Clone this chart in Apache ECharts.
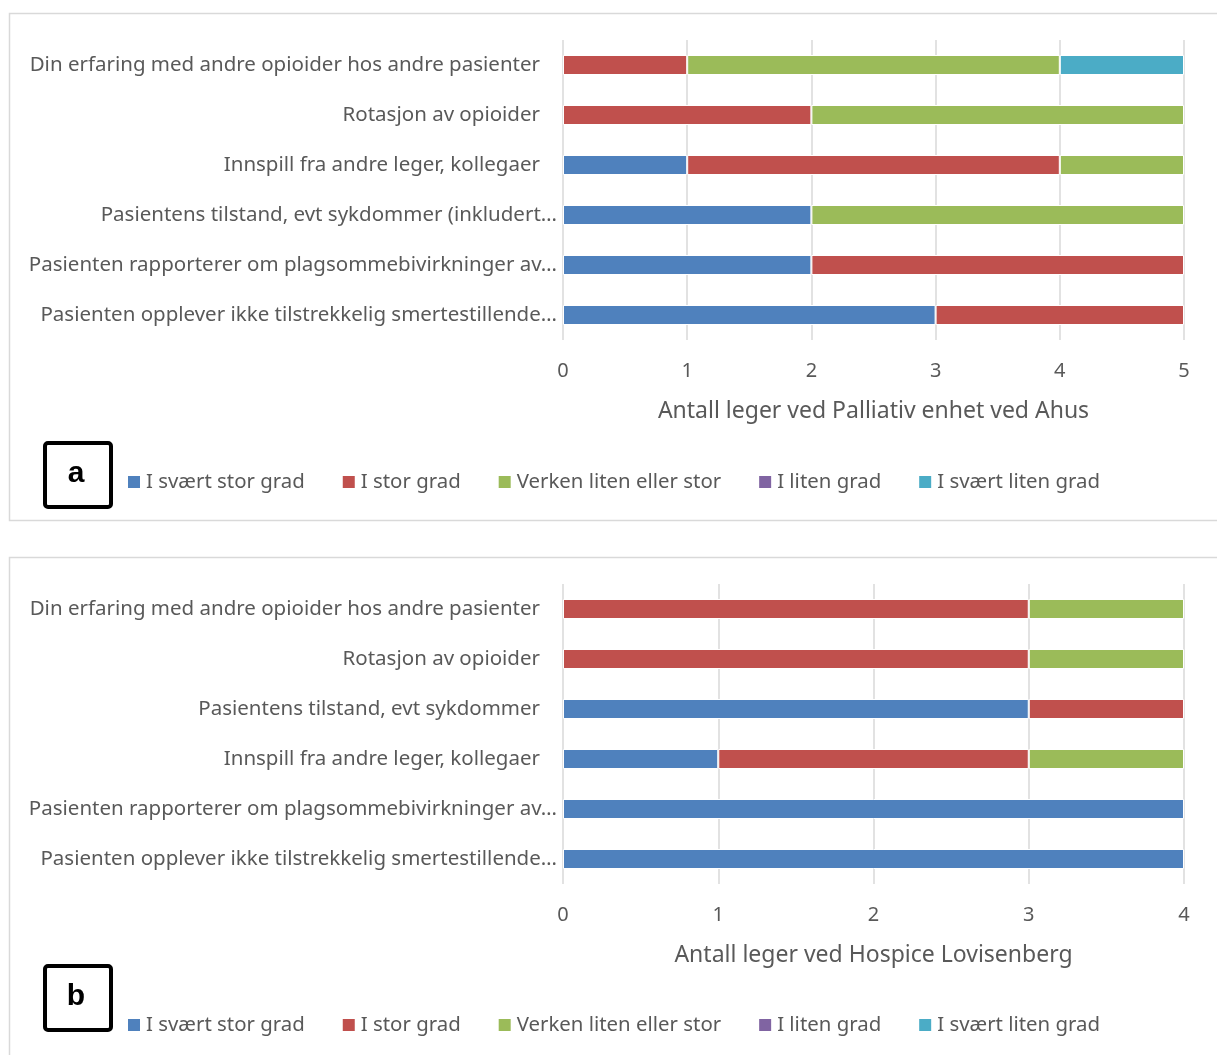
<!DOCTYPE html>
<html>
<head>
    <meta charset="UTF-8">
    <title>Antall leger</title>
    <script src="https://cdn.jsdelivr.net/npm/echarts@6/dist/echarts.min.js"></script>
    <style>
        html, body { margin: 0; padding: 0; background: #fff; }
        #chart { width: 1217px; height: 1055px; }
    </style>
</head>
<body>
<div id="chart"></div>
<script>
    // kategorier, fra topp til bunn
    var catsA = [
        'Din erfaring med andre opioider hos andre pasienter',
        'Rotasjon av opioider',
        'Innspill fra andre leger, kollegaer',
        'Pasientens tilstand, evt sykdommer (inkludert\u2026',
        'Pasienten rapporterer om plagsommebivirkninger av\u2026',
        'Pasienten opplever ikke tilstrekkelig smertestillende\u2026'
    ];
    var catsB = [
        'Din erfaring med andre opioider hos andre pasienter',
        'Rotasjon av opioider',
        'Pasientens tilstand, evt sykdommer',
        'Innspill fra andre leger, kollegaer',
        'Pasienten rapporterer om plagsommebivirkninger av\u2026',
        'Pasienten opplever ikke tilstrekkelig smertestillende\u2026'
    ];
    var seriesNames = ['I svært stor grad', 'I stor grad', 'Verken liten eller stor', 'I liten grad', 'I svært liten grad'];
    var colors = ['#4F81BD', '#C0504D', '#9BBB59', '#8064A2', '#4BACC6'];

    // a: Palliativ enhet ved Ahus
    var a_sværtStor = [0, 0, 1, 2, 2, 3];
    var a_stor      = [1, 2, 3, 0, 3, 2];
    var a_verken    = [3, 3, 1, 3, 0, 0];
    var a_liten     = [0, 0, 0, 0, 0, 0];
    var a_sværtLiten = [1, 0, 0, 0, 0, 0];

    // b: Hospice Lovisenberg
    var b_sværtStor = [0, 0, 3, 1, 4, 4];
    var b_stor      = [3, 3, 1, 2, 0, 0];
    var b_verken    = [1, 1, 0, 1, 0, 0];
    var b_liten     = [0, 0, 0, 0, 0, 0];
    var b_sværtLiten = [0, 0, 0, 0, 0, 0];

    var ticksA = [0, 1, 2, 3, 4, 5];
    var ticksB = [0, 1, 2, 3, 4];

    var fontFam = 'Noto Sans';
    var txt = '#595959';

    function mkSeries(data, idx) {
        var out = [];
        for (var i = 0; i < data.length; i++) {
            out.push({
                name: seriesNames[i],
                type: 'bar',
                stack: 's' + idx,
                xAxisIndex: idx,
                yAxisIndex: idx,
                barWidth: 20,
                itemStyle: { color: colors[i], borderColor: '#fff', borderWidth: 1 },
                data: data[i].map(function (v) { return v === 0 ? null : v; })
            });
        }
        return out;
    }

    function mkX(idx, max, name) {
        return {
            gridIndex: idx, type: 'value', min: 0, max: max, interval: 1,
            name: name, nameLocation: 'middle', nameGap: 60,
            nameTextStyle: { color: txt, fontSize: 23, fontFamily: fontFam },
            axisLine: { show: false }, axisTick: { show: false },
            axisLabel: { color: txt, fontSize: 20, fontFamily: fontFam, margin: 21 },
            splitLine: { lineStyle: { color: '#d9d9d9', width: 1.5 } }
        };
    }
    // avkortede etiketter (med …) går litt lenger mot høyre, som i Excel
    function mkY(idx, cats) {
        return {
            gridIndex: idx, type: 'category', data: cats, inverse: true,
            axisLine: { show: false }, axisTick: { show: false },
            axisLabel: {
                color: txt, fontSize: 20.5, fontFamily: fontFam, margin: 6,
                formatter: function (v) {
                    return v.slice(-1) === '\u2026' ? '{t|' + v + '}' : '{t|' + v + '}{sp|}';
                },
                rich: {
                    t: { color: txt, fontSize: 20.5, fontFamily: fontFam },
                    sp: { width: 17 }
                }
            }
        };
    }
    function mkLegend(top) {
        return {
            left: 126, top: top, padding: 0, itemWidth: 14, itemHeight: 14, itemGap: 36,
            icon: 'rect', data: seriesNames,
            textStyle: { color: txt, fontSize: 20.4, fontFamily: fontFam }
        };
    }
    function labelBox(y, t) {
        return [
            { type: 'rect', left: 43, top: y, shape: { width: 66, height: 64, r: 3 },
              style: { fill: '#fff', stroke: '#000', lineWidth: 4 } },
            { type: 'text', x: 76, y: y + 33,
              style: { text: t, fill: '#000', font: 'bold 30px "Liberation Sans"',
                       textAlign: 'center', textVerticalAlign: 'middle' } }
        ];
    }

    var myChart = echarts.init(document.getElementById('chart'));
    var option = {
        animation: false,
        color: colors,
        grid: [
            { left: 563, width: 621, top: 40, height: 300 },
            { left: 563, width: 621, top: 584, height: 300 }
        ],
        xAxis: [mkX(0, ticksA[ticksA.length - 1], 'Antall leger ved Palliativ enhet ved Ahus'),
                mkX(1, ticksB[ticksB.length - 1], 'Antall leger ved Hospice Lovisenberg')],
        yAxis: [mkY(0, catsA), mkY(1, catsB)],
        legend: [mkLegend(472), mkLegend(1015)],
        graphic: [
            { type: 'rect', left: 7, top: 11, shape: { width: 1230, height: 507 },
              style: { fill: 'none', stroke: '#d9d9d9', lineWidth: 1.5 } },
            { type: 'rect', left: 7, top: 555, shape: { width: 1230, height: 520 },
              style: { fill: 'none', stroke: '#d9d9d9', lineWidth: 1.5 } }
        ].concat(labelBox(441, 'a'), labelBox(964, 'b')),
        series: mkSeries([a_sværtStor, a_stor, a_verken, a_liten, a_sværtLiten], 0)
            .concat(mkSeries([b_sværtStor, b_stor, b_verken, b_liten, b_sværtLiten], 1))
    };
    myChart.setOption(option);
</script>
</body>
</html>
